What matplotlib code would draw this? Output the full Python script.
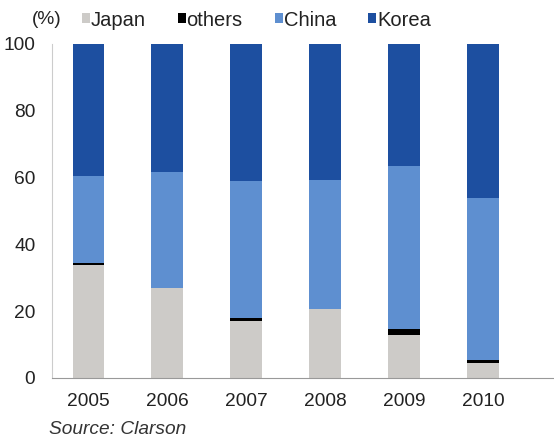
import matplotlib
matplotlib.use("Agg")
import matplotlib.pyplot as plt
import numpy as np

years = ["2005", "2006", "2007", "2008", "2009", "2010"]
japan = [33.8, 26.9, 17.1, 20.6, 12.8, 4.4]
others = [0.5, 0.0, 0.8, 0.0, 1.8, 1.0]
china = [26.3, 34.9, 41.2, 38.8, 49.0, 48.6]
korea = [39.4, 38.2, 40.9, 40.6, 36.4, 46.0]

series_names = ["Japan", "others", "China", "Korea"]
colors = ["#cdcbc8", "#000000", "#5e8fd0", "#1d4fa0"]

plt.rcParams['font.family'] = ['Liberation Sans', 'DejaVu Sans']

fig = plt.figure(figsize=(5.54, 4.43), dpi=100)
ax = fig.add_axes([52/554, 1-378/443, 1-52/554, (378-44)/443])

x = np.arange(len(years))
bottom = np.zeros(len(years))
handles = []
for vals, name, c in zip([japan, others, china, korea], series_names, colors):
    b = ax.bar(x, vals, width=0.4, bottom=bottom, color=c, label=name, linewidth=0)
    handles.append(b)
    bottom += np.array(vals)

ax.set_xlim(-0.46, 5.9)
ax.set_ylim(0, 100)
ax.set_yticks([0, 20, 40, 60, 80, 100])
ax.set_xticks(x)
ax.set_xticklabels(years)
ax.tick_params(axis='both', labelsize=13.8, colors='#222222', length=0)
ax.tick_params(axis='y', pad=12)
ax.tick_params(axis='x', pad=11)
for s in ['top', 'right']:
    ax.spines[s].set_visible(False)
ax.spines['left'].set_color('#cccccc')
ax.spines['bottom'].set_color('#999999')

fig.text(32/554, 1-20/443, "(%)", fontsize=13.8, color='#222222', va='center', ha='left')
leg = fig.legend(handles=handles, labels=series_names, ncol=4, loc='center left',
                 bbox_to_anchor=(82/554, 1-20/443), frameon=False, fontsize=14.5,
                 handlelength=0.38, handleheight=0.38, handletextpad=0.05,
                 columnspacing=1.6, borderpad=0, borderaxespad=0)
for t in leg.get_texts():
    t.set_color('#222222')

fig.text(49/554, 1-429/443, "Source: Clarson", fontsize=13.8, style='italic',
         color='#333333', va='center', ha='left')

fig.savefig("out.png", dpi=100)
